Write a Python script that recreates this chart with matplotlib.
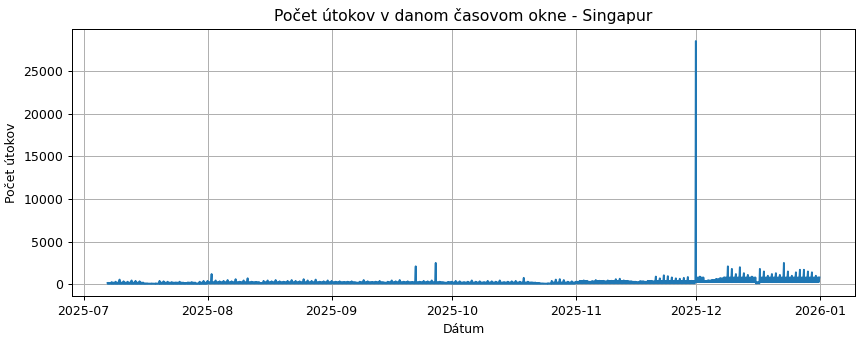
###############
#%% IMPORTS ###
import numpy as np
import pandas as pd
import matplotlib as mpl
mpl.use('Agg')
import matplotlib.pyplot as plt
import matplotlib.dates as mdates

##############
#%% INPUTS ###
### Daily peak counts, one list per month
jul_peaks = [150, 250, 300, 550, 350, 300, 450, 400, 350, 100, 80, 80, 90, 400, 350,
             300, 250, 200, 300, 150, 200, 250, 100, 300, 400]  # from 2025-07-07
aug_peaks = [400, 1200, 450, 350, 400, 500, 350, 600, 300, 450, 700, 300, 250, 150, 400,
             450, 350, 500, 350, 300, 400, 500, 400, 350, 600, 450, 400, 550, 300, 350, 450]
sep_peaks = [400, 300, 350, 250, 300, 350, 200, 300, 500, 350, 250, 300, 400, 200, 300,
             450, 350, 500, 300, 350, 250, 2100, 300, 400, 350, 450, 2500, 300, 200, 250]
oct_peaks = [300, 400, 350, 250, 300, 450, 300, 350, 250, 400, 350, 300, 450, 250, 300,
             350, 400, 300, 750, 300, 200, 150, 100, 80, 100, 400, 550, 600, 500, 300, 350]
nov_peaks = [300, 400, 450, 300, 350, 500, 400, 350, 450, 400, 600, 650, 450, 350, 300,
             250, 350, 300, 400, 350, 900, 700, 1050, 950, 800, 700, 650, 750, 850, 400]
dec_peaks = [28500, 900, 400, 450, 500, 600, 700, 800, 2100, 1800, 1200, 2000, 1300, 1100, 900,
             100, 1800, 1500, 1000, 1200, 1300, 1100, 2500, 1500, 1000, 1400, 1700, 1700, 1500,
             1400, 1000]
### Typical low and typical level between peaks, per month
month_lows = [50, 80, 80, 60, 100, 250]
month_levels = [200, 250, 250, 220, 400, 800]

title = 'Počet útokov v danom časovom okne - Singapur'
xlabel = 'Dátum'
ylabel = 'Počet útokov'

#################
#%% PROCEDURE ###
month_starts = ['2025-07-07', '2025-08-01', '2025-09-01', '2025-10-01', '2025-11-01', '2025-12-01']
all_peaks = [jul_peaks, aug_peaks, sep_peaks, oct_peaks, nov_peaks, dec_peaks]

### Build an hourly-looking series: short peak at midnight, then low/level swings
hour_pattern = [0, 1, 5, 9, 13, 17, 21]
times, counts = [], []
for start, peaks, low, level in zip(month_starts, all_peaks, month_lows, month_levels):
    days = pd.date_range(start, periods=len(peaks), freq='D')
    for day, peak in zip(days, peaks):
        level_day = min(level, peak)
        values = [peak, low, level_day, low, level_day, low, level_day]
        times += [day + pd.Timedelta(hours=h) for h in hour_pattern]
        counts += values
df = pd.DataFrame({'time': times, 'count': counts})

#%% Plot
plt.close()
f, ax = plt.subplots(figsize=(9.6, 3.79), dpi=90)
ax.plot(df.time, df['count'], color='C0', lw=1.5)
ax.set_title(title, fontsize=12.5)
ax.set_xlabel(xlabel)
ax.set_ylabel(ylabel)
ax.grid(True)
ax.xaxis.set_major_locator(mdates.MonthLocator())
ax.xaxis.set_major_formatter(mdates.DateFormatter('%Y-%m'))
f.subplots_adjust(left=0.0833, right=0.9896, top=0.915, bottom=0.132)
f.savefig('out.png', dpi=90)
